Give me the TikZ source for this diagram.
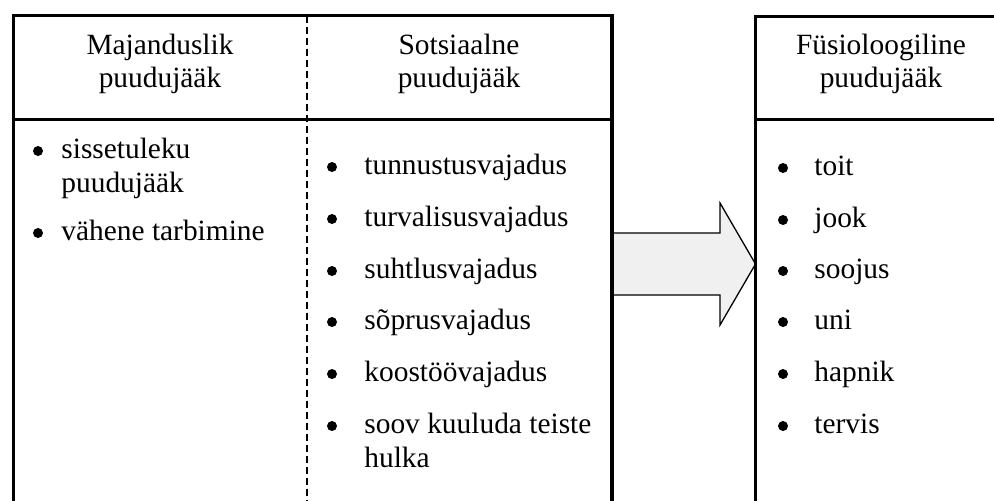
\documentclass[tikz,border=0pt]{standalone}
\usepackage{fontspec}
\setmainfont{Liberation Serif}
\begin{document}
\begin{tikzpicture}[x=0.5pt,y=-0.5pt,
  frame/.style={line width=1.65pt},
  rule/.style={line width=1.15pt},
  divider/.style={line width=0.65pt, dash pattern=on 3.5pt off 2pt},
  blockarrow/.style={draw, line width=0.65pt, fill=black!6, line join=miter},
  txt/.style={font=\fontsize{14.7}{17}\selectfont, inner sep=0pt},
  head/.style={txt, anchor=base},
  bul/.style={circle, fill=black, inner sep=0pt, minimum size=5pt},
  item/.style={txt, anchor=base west},
]
\clip (0,0) rectangle (994,500);

% block arrow from the needs table to the physiological column
\draw[blockarrow] (612,233) -- (720,233) -- (720,203) -- (755.5,264)
  -- (720,325) -- (720,295) -- (612,295) -- cycle;

% left table: economic and social deficit
\draw[frame] (13.5,15.5) rectangle (612,520);
\draw[rule] (13.5,119.5) -- (612,119.5);
\draw[divider] (307,15.5) -- (307,520);

% right table: physiological deficit
\draw[frame] (755.5,16.5) rectangle (1010,520);
\draw[rule] (755.5,119.5) -- (1010,119.5);

% headers
\node[head] (h1a) at (160,54) {Majanduslik};
\node[head] (h1b) at (160,87) {puudujääk};
\node[head] (h2a) at (459,54) {Sotsiaalne};
\node[head] (h2b) at (459,87) {puudujääk};
\node[head] (h3a) at (881,54) {Füsioloogiline};
\node[head] (h3b) at (881,87) {puudujääk};

% economic items
\node[bul] (eb1) at (38,151) {};
\node[item] (e1a) at (61,158) {sissetuleku};
\node[item] (e1b) at (61,192) {puudujääk};
\node[bul] (eb2) at (38,233) {};
\node[item] (e2) at (61,240) {vähene tarbimine};

% social items
\foreach \y/\t [count=\i] in {174/tunnustusvajadus, 226/turvalisusvajadus,
    278/suhtlusvajadus, 329/sõprusvajadus, 381/koostöövajadus,
    433/soov kuuluda teiste} {
  \node[bul] (sb\i) at (332,\y-7) {};
  \node[item] (s\i) at (364,\y) {\t};
}
\node[item] (s6b) at (364,467) {hulka};

% physiological items
\foreach \y/\t [count=\i] in {175/toit, 227/jook, 278/soojus, 329/uni,
    381/hapnik, 433/tervis} {
  \node[bul] (pb\i) at (783,\y-7) {};
  \node[item] (p\i) at (814,\y) {\t};
}
\end{tikzpicture}
\end{document}
